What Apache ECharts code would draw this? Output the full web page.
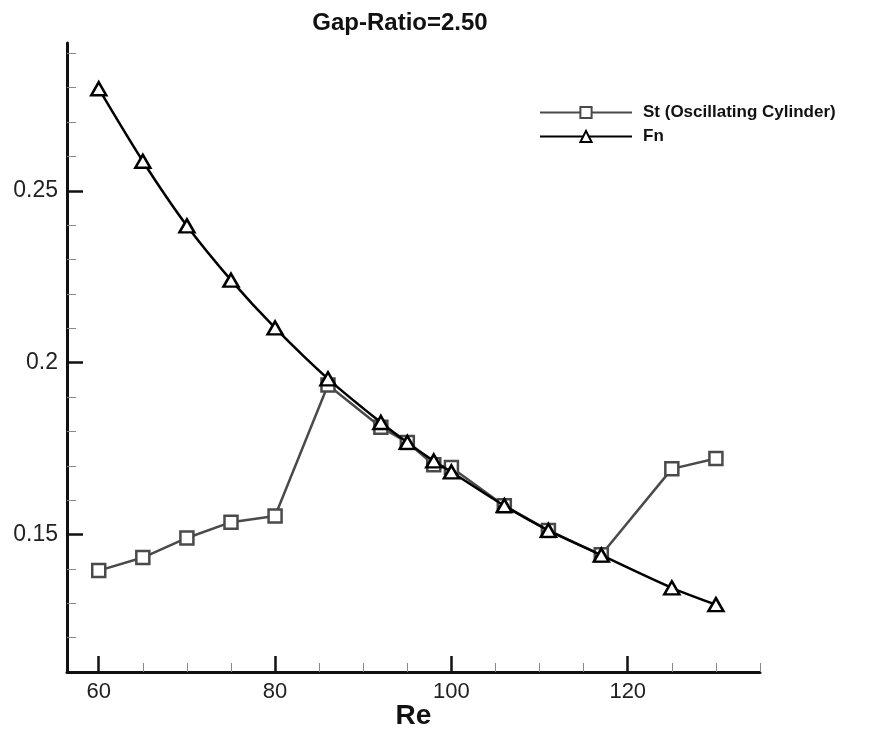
<!DOCTYPE html>
<html>
<head>
<meta charset="utf-8">
<script src="https://cdn.jsdelivr.net/npm/echarts@6/dist/echarts.min.js"></script>
<style>
  html, body { margin: 0; padding: 0; background: #fff; }
  #chart { width: 878px; height: 731px; }
</style>
</head>
<body>
<div id="chart"></div>
<script>
// Re values (same for both series)
var re = [60, 65, 70, 75, 80, 86, 92, 95, 98, 100, 106, 111, 117, 125, 130]
// St of the oscillating cylinder
var stValues = [0.1395, 0.1433, 0.1490, 0.1536, 0.1554, 0.1935, 0.1812, 0.1768, 0.1703, 0.1695, 0.1584, 0.1512, 0.1441, 0.1691, 0.1721]
// Fn
var fnValues = [0.2797, 0.2586, 0.2398, 0.2240, 0.2101, 0.1953, 0.1826, 0.1768, 0.1714, 0.1682, 0.1584, 0.1512, 0.1440, 0.1345, 0.1296]

var xMajor = [60, 80, 100, 120]
var xMinor = [65, 70, 75, 85, 90, 95, 105, 110, 115, 125, 130, 135]
var yMajor = [0.15, 0.2, 0.25]
var yMinor = [0.12, 0.13, 0.14, 0.16, 0.17, 0.18, 0.19, 0.21, 0.22, 0.23, 0.24, 0.26, 0.27, 0.28, 0.29]

var font = 'Liberation Sans, Arial, sans-serif'

function pairs (xs, ys) {
  return xs.map(function (x, i) { return [x, ys[i]] })
}

var xBase = {
  type: 'value',
  min: 56.4,
  max: 135,
  splitLine: { show: false }
}
var yBase = {
  type: 'value',
  min: 0.11,
  max: 0.293,
  splitLine: { show: false }
}

var myChart = echarts.init(document.getElementById('chart'))
myChart.setOption({
  animation: false,
  title: {
    text: 'Gap-Ratio=2.50',
    left: 395,
    textAlign: 'center',
    top: 6,
    textStyle: { fontFamily: font, fontSize: 24, fontWeight: 'bold', color: '#111' }
  },
  legend: {
    orient: 'vertical',
    left: 534,
    top: 99,
    itemWidth: 92,
    itemHeight: 14,
    itemGap: 7,
    textStyle: { fontFamily: font, fontSize: 17, fontWeight: 'bold', color: '#111', padding: [0, 0, 0, 6] },
    data: ['St (Oscillating Cylinder)', 'Fn']
  },
  grid: { left: 67, right: 118, top: 43, bottom: 59, outerBoundsMode: 'none' },
  xAxis: [
    Object.assign({}, xBase, {
      name: 'Re',
      nameLocation: 'middle',
      nameGap: 30,
      nameMoveOverlap: false,
      nameTextStyle: { fontFamily: font, fontSize: 28, fontWeight: 'bold', color: '#111' },
      axisLine: { lineStyle: { color: '#111', width: 3 } },
      axisTick: { inside: true, length: 16, customValues: xMajor, lineStyle: { color: '#111', width: 2.5 } },
      axisLabel: { customValues: xMajor, margin: 9, fontFamily: font, fontSize: 22, color: '#222' }
    }),
    Object.assign({}, xBase, {
      position: 'bottom',
      axisLine: { show: false },
      axisTick: { inside: true, length: 9, customValues: xMinor, lineStyle: { color: '#888', width: 1 } },
      axisLabel: { show: false }
    })
  ],
  yAxis: [
    Object.assign({}, yBase, {
      axisLine: { show: true, lineStyle: { color: '#111', width: 3 } },
      axisTick: { show: true, inside: true, length: 16, customValues: yMajor, lineStyle: { color: '#111', width: 2.5 } },
      axisLabel: { customValues: yMajor, margin: 9, fontFamily: font, fontSize: 23, color: '#222' }
    }),
    Object.assign({}, yBase, {
      position: 'left',
      axisLine: { show: false },
      axisTick: { show: true, inside: true, length: 9, customValues: yMinor, lineStyle: { color: '#888', width: 1 } },
      axisLabel: { show: false }
    })
  ],
  series: [
    {
      name: 'St (Oscillating Cylinder)',
      type: 'line',
      data: pairs(re, stValues),
      symbol: 'rect',
      symbolSize: 13,
      lineStyle: { color: '#4a4a4a', width: 2.5 },
      itemStyle: { color: '#fff', borderColor: '#4a4a4a', borderWidth: 2.5 },
      z: 2
    },
    {
      name: 'Fn',
      type: 'line',
      data: pairs(re, fnValues),
      smooth: 0.3,
      symbol: 'triangle',
      symbolSize: [15, 13],
      lineStyle: { color: '#000', width: 2.5 },
      itemStyle: { color: '#fff', borderColor: '#000', borderWidth: 2.5 },
      z: 3
    }
  ]
})
</script>
</body>
</html>
